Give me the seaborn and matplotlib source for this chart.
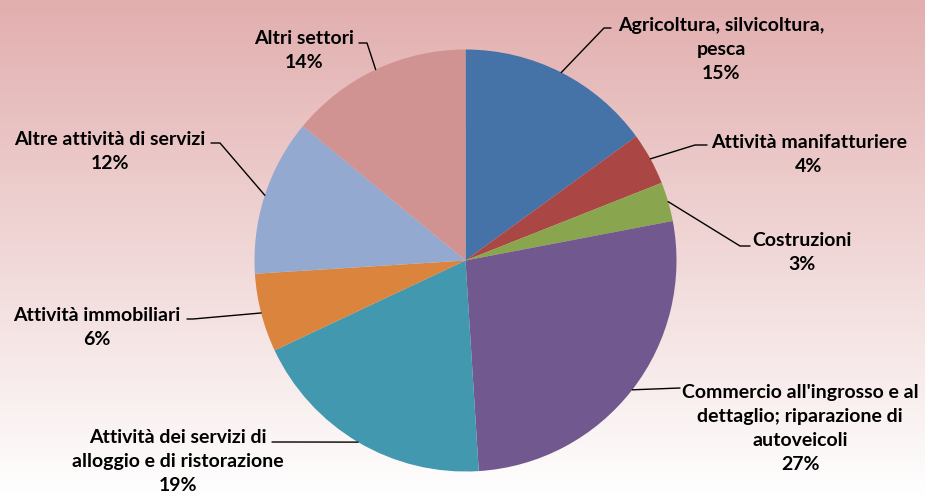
import numpy as np
import matplotlib.pyplot as plt
import seaborn as sns

# data
sectors = [
    "Agricoltura, silvicoltura,\npesca",
    "Attività manifatturiere",
    "Costruzioni",
    "Commercio all'ingrosso e al\ndettaglio; riparazione di\nautoveicoli",
    "Attività dei servizi di\nalloggio e di ristorazione",
    "Attività immobiliari",
    "Altre attività di servizi",
    "Altri settori",
]
shares = [15, 4, 3, 27, 19, 6, 12, 14]
colors = ["#4572A7", "#AA4643", "#89A54E", "#71588F",
          "#4198AF", "#DB843D", "#93A9CF", "#D19392"]

# label layout in pixels from top-left: text centre, leader elbow, leader end
W, H = 925, 498
label_pos = [(721, 49), (809, 154), (802, 252), (800, 428),
             (178, 461), (97, 327), (110, 151), (304, 50)]
elbows = [(604, 28), (695, 145), (740, 246), (680, 388),
          (283, 442), (193, 319), (220, 143), (367, 43)]
ends = [(611, 28), (707, 145), (750, 246), (680, 388),
        (272, 442), (187, 319), (211, 143), (359, 43)]

sns.set_theme(style="white")
plt.rcParams['font.family'] = ['Lato', 'DejaVu Sans']

fig = plt.figure(figsize=(W / 100, H / 100), dpi=100)

# pink to white vertical gradient
bg = fig.add_axes([0, 0, 1, 1], zorder=0)
t = np.linspace(0, 1, 256)[:, None, None]
top = np.array([226, 174, 174]) / 255
img = top * (1 - t) + np.ones(3) * t
bg.imshow(img, aspect='auto', extent=[0, 1, 0, 1], origin='upper')
bg.axis('off')

ax = fig.add_axes([0, 0, 1, 1], zorder=1)
ax.patch.set_alpha(0)
cx, cy, r = 465.5, H - 260.5, 211
wedges, _ = ax.pie(shares, colors=colors, startangle=90, counterclock=False,
                   center=(cx, cy), radius=r, wedgeprops=dict(linewidth=0))

for w, name, val, (tx, ty), (ex, ey), (nx, ny) in zip(
        wedges, sectors, shares, label_pos, elbows, ends):
    mid = np.deg2rad((w.theta1 + w.theta2) / 2)
    ax_, ay_ = cx + r * np.cos(mid), cy + r * np.sin(mid)
    ax.plot([ax_, ex, nx], [ay_, H - ey, H - ny], color="black", lw=1)
    ax.text(tx, H - ty, f"{name}\n{val}%", ha="center", va="center",
            fontsize=14, fontweight="bold", color="black", linespacing=1.5)

ax.set_xlim(0, W)
ax.set_ylim(0, H)
ax.axis('off')

fig.savefig("out.png", dpi=100)
